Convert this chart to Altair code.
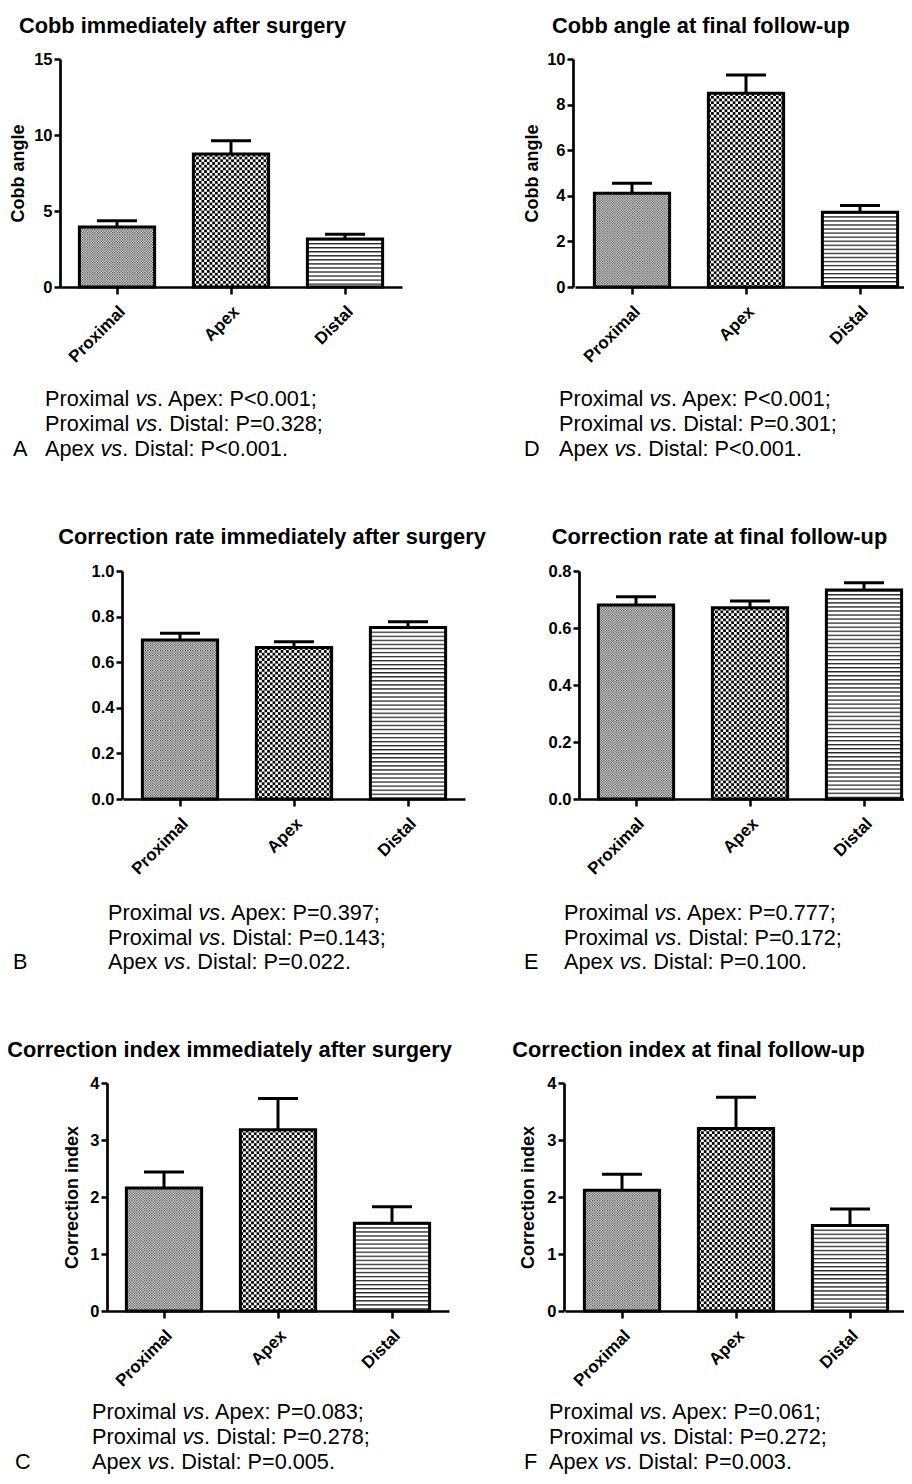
import base64
import altair as alt
import pandas as pd

# ---------------- data ----------------
categories = ["Proximal", "Apex", "Distal"]

cobb_post_mean = [3.95, 8.75, 3.16]
cobb_post_sem = [0.41, 0.87, 0.31]
cobb_final_mean = [4.11, 8.50, 3.28]
cobb_final_sem = [0.44, 0.80, 0.29]
rate_post_mean = [0.697, 0.665, 0.752]
rate_post_sem = [0.030, 0.025, 0.025]
rate_final_mean = [0.681, 0.671, 0.733]
rate_final_sem = [0.029, 0.024, 0.026]
index_post_mean = [2.16, 3.18, 1.54]
index_post_sem = [0.28, 0.55, 0.29]
index_final_mean = [2.12, 3.20, 1.50]
index_final_sem = [0.28, 0.55, 0.29]

panel_letters = ["A", "D", "B", "E", "C", "F"]
panel_titles = [
    "Cobb immediately after surgery",
    "Cobb angle at final follow-up",
    "Correction rate immediately after surgery",
    "Correction rate at final follow-up",
    "Correction index immediately after surgery",
    "Correction index at final follow-up",
]
y_titles = ["Cobb angle", "Cobb angle", "", "", "Correction index", "Correction index"]
y_ticks = [
    [0, 5, 10, 15],
    [0, 2, 4, 6, 8, 10],
    [0, 0.2, 0.4, 0.6, 0.8, 1.0],
    [0, 0.2, 0.4, 0.6, 0.8],
    [0, 1, 2, 3, 4],
    [0, 1, 2, 3, 4],
]
y_max = [15, 10, 1.0, 0.8, 4, 4]
y_formats = ["d", "d", ".1f", ".1f", "d", "d"]
comparisons = [("Proximal", "Apex"), ("Proximal", "Distal"), ("Apex", "Distal")]
p_values = [
    ["P<0.001", "P=0.328", "P<0.001"],
    ["P<0.001", "P=0.301", "P<0.001"],
    ["P=0.397", "P=0.143", "P=0.022"],
    ["P=0.777", "P=0.172", "P=0.100"],
    ["P=0.083", "P=0.278", "P=0.005"],
    ["P=0.061", "P=0.272", "P=0.003"],
]
means = [cobb_post_mean, cobb_final_mean, rate_post_mean, rate_final_mean, index_post_mean, index_final_mean]
sems = [cobb_post_sem, cobb_final_sem, rate_post_sem, rate_final_sem, index_post_sem, index_final_sem]

# ---------------- layout (pixels inside the chart) ----------------
W, H = 896, 1466
FONT = "Liberation Sans"
FS = 21.7
TFS = 21.8
layout = [
    dict(ax=52, xr=[52, 394], yr=[279, 51], ytx=-42, tx=174.5, ty=25, cx=37, lx=5, cb=[397.5, 422.5, 447.5]),
    dict(ax=565, xr=[567, 909], yr=[279, 51], ytx=-41, tx=693, ty=25, cx=551, lx=516, cb=[397.5, 422.5, 447.5]),
    dict(ax=114, xr=[115, 457], yr=[791, 563], ytx=-43, tx=264, ty=536, cx=100, lx=5, cb=[912, 937, 961]),
    dict(ax=571, xr=[571, 913], yr=[791, 563], ytx=-43, tx=711.5, ty=536, cx=556, lx=516, cb=[912, 937, 961]),
    dict(ax=99, xr=[99, 441], yr=[1303, 1075], ytx=-35, tx=221.5, ty=1049, cx=84, lx=7, cb=[1411, 1436, 1461]),
    dict(ax=556, xr=[557, 899], yr=[1303, 1075], ytx=-36, tx=680.5, ty=1049, cx=541, lx=516, cb=[1411, 1436, 1461]),
]


def pattern_uri(tile_w, tile_h, inner):
    svg = (
        "<svg xmlns='http://www.w3.org/2000/svg' width='100%' height='100%'>"
        f"<defs><pattern id='p' width='{tile_w}' height='{tile_h}' patternUnits='userSpaceOnUse'>"
        f"{inner}</pattern></defs>"
        "<rect width='100%' height='100%' fill='url(#p)'/></svg>"
    )
    return "data:image/svg+xml;base64," + base64.b64encode(svg.encode()).decode()


def checker(period, dot):
    h = period / 2
    return pattern_uri(
        period, period,
        f"<rect width='{period}' height='{period}' fill='#ffffff'/>"
        f"<rect width='{dot}' height='{dot}' fill='#000000'/>"
        f"<rect x='{h}' y='{h}' width='{dot}' height='{dot}' fill='#000000'/>",
    )


stripes = pattern_uri(
    10, 4.05,
    "<rect width='10' height='4.05' fill='#ffffff'/><rect width='10' height='1.3' fill='#262626'/>",
)
pattern_urls = [checker(2.5, 1.1), checker(5.4, 2.7), stripes]

axis_common = dict(
    domainColor="black", domainWidth=2.7, tickColor="black", tickWidth=2.5,
    labelColor="black", labelFont=FONT, labelFontWeight="bold", grid=False,
    titleFont=FONT, titleFontWeight="bold", titleColor="black",
)


def make_panel(i):
    L = layout[i]
    df = pd.DataFrame({"cat": categories, "mean": means[i], "sem": sems[i]})
    base = alt.Chart(df).transform_calculate(upper="datum.mean + datum.sem")
    xenc = alt.X(
        "cat:N",
        scale=alt.Scale(domain=categories, range=L["xr"], paddingInner=0.34, paddingOuter=0.17),
        axis=alt.Axis(
            orient="bottom", offset=L["yr"][0] - H, title="", labelAngle=-45,
            labelAlign="right", labelBaseline="top", labelFontSize=17,
            labelPadding=9, tickSize=7, **axis_common,
        ),
    )

    def yenc(field):
        return alt.Y(
            f"{field}:Q",
            scale=alt.Scale(domain=[0, y_max[i]], range=L["yr"], nice=False, zero=True),
            axis=alt.Axis(
                orient="left", offset=-L["ax"], values=y_ticks[i], format=y_formats[i],
                title=y_titles[i], titleX=L["ytx"], titleBaseline="middle", titleFontSize=18,
                labelFontSize=16.5, labelPadding=2, tickSize=6, **axis_common,
            ),
        )

    layers = []
    for cat, url in zip(categories, pattern_urls):
        layers.append(
            base.transform_filter(alt.datum.cat == cat)
            .mark_image(url=url, aspect=False)
            .encode(x=xenc, y=yenc("mean"), y2=alt.datum(0))
        )
    layers.append(
        base.mark_bar(fillOpacity=0, stroke="black", strokeWidth=3, strokeJoin="miter")
        .encode(x=xenc, y=yenc("mean"))
    )
    layers.append(
        base.mark_rule(color="black", strokeWidth=3).encode(x=xenc, y=yenc("mean"), y2=alt.Y2("upper:Q"))
    )
    layers.append(
        base.mark_tick(color="black", thickness=3, size=40, opacity=1).encode(x=xenc, y=yenc("upper"))
    )
    return alt.layer(*layers)


# ---------------- text annotations ----------------
W_PREFIX = {"Proximal": 4.167, "Apex": 2.557}  # Arial advance widths (em), incl. trailing space
W_VS = 1.0
title_rows, reg_rows, ital_rows = [], [], []
for i, L in enumerate(layout):
    title_rows.append({"text": panel_titles[i], "px": L["tx"], "py": L["ty"]})
    for j, (a, b) in enumerate(comparisons):
        end = "." if j == 2 else ";"
        yb = L["cb"][j]
        x_vs = L["cx"] + FS * W_PREFIX[a]
        reg_rows.append({"text": a, "px": L["cx"], "py": yb})
        ital_rows.append({"text": "vs", "px": x_vs, "py": yb})
        reg_rows.append({"text": f". {b}: {p_values[i][j]}{end}", "px": x_vs + FS * W_VS, "py": yb})
    reg_rows.append({"text": panel_letters[i], "px": L["lx"], "py": L["cb"][2]})


def text_layer(rows, **mark):
    return alt.Chart(pd.DataFrame(rows)).mark_text(font=FONT, color="black", baseline="alphabetic", **mark).encode(
        x=alt.X("px:Q", scale=None, axis=None),
        y=alt.Y("py:Q", scale=None, axis=None),
        text="text:N",
    )


texts = [
    text_layer(title_rows, fontSize=TFS, fontWeight="bold", align="center"),
    text_layer(reg_rows, fontSize=FS, align="left"),
    text_layer(ital_rows, fontSize=FS, fontStyle="italic", align="left"),
]

chart = (
    alt.layer(*[make_panel(i) for i in range(6)], *texts)
    .resolve_scale(x="independent", y="independent")
    .properties(width=W, height=H, autosize=alt.AutoSizeParams(type="none"), padding=0, background="white")
    .configure_view(strokeWidth=0)
)

chart.save("out.html", embed_options={"renderer": "svg", "actions": False})
